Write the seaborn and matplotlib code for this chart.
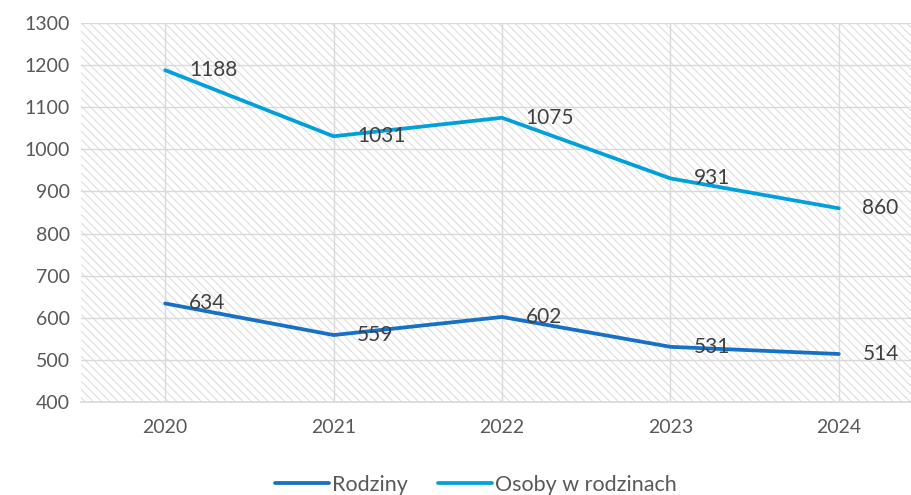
import pandas as pd
import seaborn as sns
import matplotlib.pyplot as plt
from matplotlib.patches import Rectangle

years = [2020, 2021, 2022, 2023, 2024]
rodziny = [634, 559, 602, 531, 514]
osoby = [1188, 1031, 1075, 931, 860]
series_names = ['Rodziny', 'Osoby w rodzinach']
colors = ['#1570C6', '#00A0DC']

df = pd.DataFrame({
    'rok': years * 2,
    'wartosc': rodziny + osoby,
    'seria': [series_names[0]] * len(years) + [series_names[1]] * len(years),
})

sns.set_style('white')
plt.rcParams['font.family'] = ['Lato', 'DejaVu Sans']
plt.rcParams['hatch.color'] = '#dedede'
plt.rcParams['hatch.linewidth'] = 0.8

fig = plt.figure(figsize=(9.11, 4.95), dpi=100)
ax = fig.add_axes([81 / 911, 1 - 402 / 495, (923 - 81) / 911, (402 - 23) / 495])

# hatched plot background
ax.add_patch(Rectangle((0, 0), 1, 1, transform=ax.transAxes, facecolor='white',
                       edgecolor='#dedede', hatch='\\\\\\\\', lw=0, zorder=0))

sns.lineplot(data=df, x='rok', y='wartosc', hue='seria', palette=colors,
             linewidth=2.7, ax=ax, zorder=3, legend=True)
for line in ax.get_lines():
    line.set_solid_capstyle('round')

for vals in (rodziny, osoby):
    for x, y in zip(years, vals):
        ax.annotate(str(y), (x, y), xytext=(17, 0), textcoords='offset points',
                    ha='left', va='center', fontsize=15, color='#404040', zorder=4)

ax.set_xlim(2019.5, 2024.5)
ax.set_ylim(400, 1300)
ax.set_yticks(range(400, 1301, 100))
ax.set_xticks(years)
ax.set_xticklabels([str(y) for y in years])
ax.grid(True, color='#d9d9d9', linewidth=1.0, zorder=1)
ax.set_axisbelow(True)
ax.tick_params(axis='both', length=0, labelsize=14, labelcolor='#595959')
ax.tick_params(axis='x', pad=12)
ax.tick_params(axis='y', pad=8)
ax.set_xlabel('')
ax.set_ylabel('')
for side in ['top', 'right', 'left']:
    ax.spines[side].set_visible(False)
ax.spines['bottom'].set_color('#d9d9d9')
ax.spines['bottom'].set_linewidth(1.2)

handles, labels = ax.get_legend_handles_labels()
for h in handles:
    h.set_solid_capstyle('round')
ax.legend(handles, labels, loc='center', bbox_to_anchor=(476 / 911, 10 / 495),
          bbox_transform=fig.transFigure, ncol=2, frameon=False, fontsize=15.5,
          labelcolor='#595959', handlelength=2.5, handletextpad=0.15, columnspacing=1.4)

fig.savefig('out.png', dpi=100)
